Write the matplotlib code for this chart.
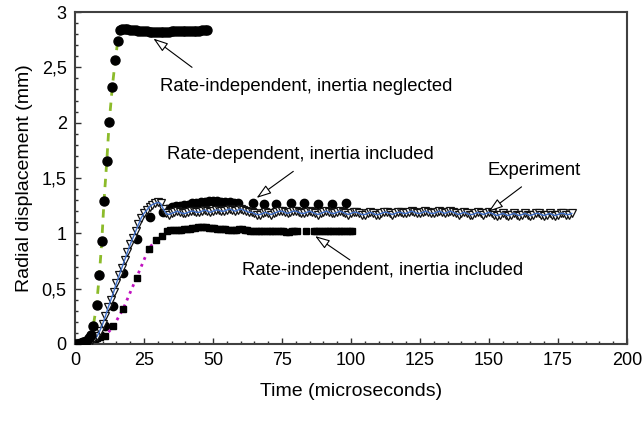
import matplotlib
matplotlib.use("Agg")
import matplotlib.pyplot as plt
from matplotlib.ticker import FuncFormatter, MultipleLocator

# Rate-independent, inertia neglected (circles + green dashed)
neglected_t = [0, 1, 2, 3, 4, 5, 5.8, 6.6, 7.8, 8.8, 9.7, 10.5, 11.5, 12.4, 13.5,
               14.6, 15.5, 16.3, 17, 18, 19, 20, 21, 22, 23, 24, 25, 26, 27, 28,
               29, 30, 31, 32, 33, 34, 35, 36, 37, 38, 39, 40, 41, 42, 43, 44, 45,
               46, 47, 48]
neglected_y = [0.00, 0.00, 0.01, 0.02, 0.03, 0.05, 0.08, 0.16, 0.35, 0.62, 0.93,
               1.29, 1.65, 2.01, 2.32, 2.57, 2.74, 2.84, 2.85, 2.85, 2.845, 2.84,
               2.84, 2.835, 2.83, 2.83, 2.825, 2.825, 2.82, 2.82, 2.82, 2.82, 2.82,
               2.82, 2.82, 2.82, 2.825, 2.825, 2.825, 2.83, 2.83, 2.83, 2.83, 2.83,
               2.83, 2.83, 2.83, 2.835, 2.835, 2.835]

# Rate-dependent, inertia included (circles)
ratedep_t = [0, 1.5, 3, 4.5, 6, 7.5, 9, 10.9, 13.6, 17.3, 22.3, 27.2, 32, 33.5,
             35, 36.5, 38, 39.5, 41, 42.5, 44, 45.5, 47, 48.5, 50, 51.5, 53, 54.5,
             56, 57.5, 59, 64.6, 68.5, 73, 78.1, 83.1, 88.2, 93.2, 98.2]
ratedep_y = [0.00, 0.00, 0.01, 0.02, 0.03, 0.05, 0.08, 0.16, 0.34, 0.64, 0.95,
             1.15, 1.19, 1.22, 1.24, 1.25, 1.25, 1.26, 1.26, 1.27, 1.27, 1.28,
             1.28, 1.29, 1.29, 1.29, 1.28, 1.28, 1.28, 1.27, 1.27, 1.27, 1.265,
             1.265, 1.27, 1.27, 1.265, 1.265, 1.27]

# Rate-independent, inertia included (squares + magenta dotted)
incl_t = [0, 1, 2, 3, 4, 5, 6, 7, 8, 9, 10.9, 13.9, 17.5, 22.3, 26.7, 29.3, 31.4,
          33.2, 34.5, 35.5, 36.5, 37.5, 38.5, 39.5, 40.5, 41.5, 42.5, 43.5, 44.5,
          45.5, 46.5, 47.5, 48.5, 49.5, 50.5, 51.5, 52.5, 53.5, 54.5, 55.5, 56.5,
          57.5, 58.5, 59.5, 60.5, 61.5, 62.5, 63.5, 64.5, 65.5, 66.5, 67.5, 68.5,
          69.5, 70.5, 71.5, 72.5, 73.5, 74.5, 75.5, 76.5, 77.5, 78.5, 79.5, 80.5,
          83.7, 86.5, 87.5, 88.5, 89.5, 90.5, 91.5, 92.5, 93.5, 94.5, 95.5, 96.5,
          97.5, 98.5, 99.5, 100.5]
incl_y = [0.00, 0.00, 0.01, 0.01, 0.02, 0.02, 0.03, 0.04, 0.05, 0.06, 0.07, 0.16,
          0.32, 0.60, 0.86, 0.94, 0.98, 1.02, 1.03, 1.03, 1.03, 1.03, 1.03, 1.035,
          1.04, 1.04, 1.045, 1.05, 1.055, 1.06, 1.06, 1.055, 1.05, 1.05, 1.045,
          1.04, 1.04, 1.035, 1.035, 1.03, 1.03, 1.03, 1.03, 1.035, 1.035, 1.03,
          1.03, 1.025, 1.025, 1.025, 1.025, 1.025, 1.02, 1.02, 1.025, 1.025, 1.025,
          1.02, 1.02, 1.02, 1.015, 1.015, 1.02, 1.02, 1.02, 1.02, 1.02, 1.02,
          1.025, 1.025, 1.02, 1.02, 1.02, 1.02, 1.025, 1.025, 1.02, 1.02, 1.02,
          1.02, 1.02]

# Experiment (open triangles + blue line), one sample per microsecond
exp_t = list(range(0, 181))
exp_y = [0.00, 0.00, 0.01, 0.01, 0.02, 0.03, 0.04, 0.05, 0.07, 0.12,
         0.18, 0.25, 0.33, 0.40, 0.47, 0.55, 0.62, 0.69, 0.76, 0.83,
         0.90, 0.96, 1.02, 1.08, 1.14, 1.18, 1.21, 1.24, 1.26, 1.27,
         1.28, 1.27, 1.22, 1.18, 1.17,
         1.18, 1.19, 1.20, 1.19, 1.18, 1.18, 1.19, 1.20, 1.20, 1.19,
         1.19, 1.20, 1.21, 1.20, 1.19, 1.20, 1.21, 1.21, 1.20, 1.20,
         1.21, 1.22, 1.21, 1.20, 1.21, 1.22, 1.21, 1.20, 1.19, 1.19,
         1.18, 1.17, 1.17, 1.18, 1.19, 1.18, 1.17, 1.18, 1.19, 1.20,
         1.20, 1.19, 1.18, 1.19, 1.20, 1.20, 1.19, 1.18, 1.18, 1.19,
         1.20, 1.19, 1.18, 1.17, 1.18, 1.19, 1.20, 1.19, 1.18, 1.18,
         1.19, 1.20, 1.19, 1.18, 1.17, 1.18, 1.19, 1.19, 1.18, 1.17,
         1.17, 1.18, 1.19, 1.18, 1.17, 1.17, 1.18, 1.19, 1.19, 1.18,
         1.17, 1.18, 1.19, 1.19, 1.18, 1.18, 1.19, 1.20, 1.19, 1.18,
         1.18, 1.19, 1.20, 1.19, 1.18, 1.18, 1.19, 1.20, 1.19, 1.18,
         1.19, 1.20, 1.19, 1.18, 1.17, 1.18, 1.19, 1.18, 1.17, 1.17,
         1.18, 1.19, 1.18, 1.17, 1.18, 1.19, 1.18, 1.17, 1.16, 1.17,
         1.18, 1.17, 1.16, 1.17, 1.18, 1.17, 1.16, 1.17, 1.18, 1.17,
         1.16, 1.17, 1.18, 1.18, 1.17, 1.16, 1.17, 1.18, 1.17, 1.16,
         1.17, 1.18, 1.18, 1.17, 1.17, 1.18]

# annotation text: (label, text position, arrow tail, arrow head)
notes = [
    ("Rate-independent, inertia neglected", (30.8, 2.33), (42.4, 2.50), (28.4, 2.76)),
    ("Rate-dependent, inertia included", (33.3, 1.71), (79.1, 1.56), (65.8, 1.32)),
    ("Experiment", (149.3, 1.57), (161.8, 1.42), (149.8, 1.195)),
    ("Rate-independent, inertia included", (60.5, 0.66), (99.6, 0.76), (87.0, 0.975)),
]


def comma_fmt(v, pos):
    return f"{v:g}".replace(".", ",")


def main() -> None:
    plt.rcParams["font.family"] = ["Liberation Sans", "DejaVu Sans"]
    fig = plt.figure(figsize=(6.44, 4.23), dpi=100)
    ax = fig.add_axes([0.1165, 0.1868, 0.857, 0.7848])

    ax.plot(ratedep_t, ratedep_y, ls="none", marker="o", ms=6, color="black",
            zorder=2)
    ax.plot(incl_t, incl_y, ls=":", lw=2, color="#c010c0", marker="s", ms=4.8,
            mfc="black", mec="black", zorder=2)
    ax.plot(exp_t, exp_y, ls="none", marker="v", ms=5.5, mfc="white", mec="#111111",
            mew=0.9, zorder=3)
    ax.plot(exp_t, exp_y, ls="-", lw=1, color="#3f6fc8", zorder=4)
    ax.plot(neglected_t, neglected_y, ls=(0, (3, 2.5)), lw=2, color="#8cbb2a",
            marker="o", ms=6.5, mfc="black", mec="black", zorder=5)

    for label, pos, tail, head in notes:
        ax.text(pos[0], pos[1], label, fontsize=13.3, va="center", ha="left")
        ax.annotate("", xy=head, xytext=tail,
                    arrowprops=dict(arrowstyle="-|>,head_length=0.9,head_width=0.3",
                                    fc="white", ec="black", lw=0.8,
                                    shrinkA=0, shrinkB=0), zorder=6)

    ax.set_xlim(0, 200)
    ax.set_ylim(0, 3)
    ax.xaxis.set_major_locator(MultipleLocator(25))
    ax.xaxis.set_minor_locator(MultipleLocator(5))
    ax.yaxis.set_major_locator(MultipleLocator(0.5))
    ax.yaxis.set_minor_locator(MultipleLocator(0.1))
    ax.yaxis.set_major_formatter(FuncFormatter(comma_fmt))
    ax.tick_params(which="both", direction="in", labelsize=13, pad=6,
                   color="#303030")
    ax.tick_params(which="major", length=4.5, width=1)
    ax.tick_params(which="minor", length=2.5, width=1)
    for s in ax.spines.values():
        s.set_color("#404040")
        s.set_linewidth(1.5)

    ax.set_xlabel("Time (microseconds)", fontsize=14, labelpad=10)
    ax.set_ylabel("Radial displacement (mm)", fontsize=14, labelpad=6)

    fig.savefig("out.png", dpi=100)


if __name__ == "__main__":
    main()
